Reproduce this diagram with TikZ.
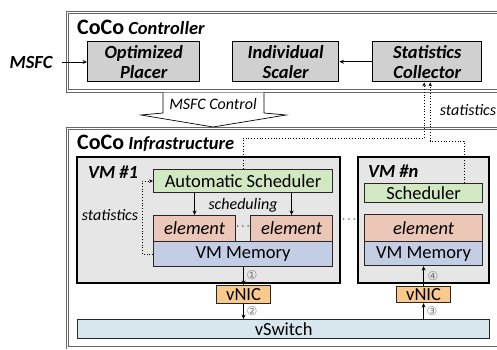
\documentclass[tikz,border=0pt]{standalone}
\usepackage{fontspec}
\setmainfont{Carlito}
\newfontfamily\dejavu{DejaVu Sans}
\usetikzlibrary{arrows.meta,calc}
\definecolor{boxgray}{RGB}{208,208,208}
\definecolor{vmgray}{RGB}{230,230,230}
\definecolor{schedgreen}{RGB}{210,232,194}
\definecolor{elsalmon}{RGB}{236,198,182}
\definecolor{memblue}{RGB}{195,206,228}
\definecolor{nicorange}{RGB}{250,201,142}
\definecolor{switchblue}{RGB}{216,231,238}
\definecolor{numgray}{RGB}{120,120,120}
\begin{document}
\begin{tikzpicture}[x=1pt,y=-1pt,
  ctrlbox/.style={draw=black, line width=1.4pt, fill=boxgray, align=center, inner sep=0pt, anchor=north west,
    font=\fontsize{18.5}{20}\selectfont\bfseries\itshape},
  vmbox/.style={draw=black, line width=1.8pt, fill=vmgray},
  inbox/.style={draw=black!85, line width=1.1pt, inner sep=0pt, anchor=north west,
    font=\fontsize{18.5}{20}\selectfont},
  frameline/.style={draw=black!60, line width=0.9pt},
  arr/.style={-{Stealth[length=4.5pt,width=4pt]}, line width=0.8pt},
  statline/.style={dotted, line width=0.8pt, -{Stealth[length=4pt,width=3.5pt]}},
  lbl/.style={font=\fontsize{16}{17}\selectfont\itshape, inner sep=0pt},
  ttl/.style={font=\fontsize{18.5}{20}\selectfont\bfseries\itshape, inner sep=0pt, anchor=base west},
  num/.style={font=\dejavu\fontsize{12}{12}\selectfont, text=numgray, inner sep=0pt},
  dots/.style={font=\fontsize{12}{12}\selectfont, inner sep=0pt}
]
\useasboundingbox (0,0) rectangle (497,349);
\clip (0,0) rectangle (497,349);

% frames (double lines)
\draw[frameline] (520,11) -- (66,11) -- (66,92) -- (520,92);
\draw[frameline] (520,13.5) -- (68.5,13.5) -- (68.5,89.5) -- (520,89.5);
\draw[frameline] (520,127) -- (66,127) -- (66,349);
\draw[frameline] (520,129.5) -- (68.5,129.5) -- (68.5,346.5) -- (520,346.5);

% controller
\node[ttl] (ctitle) at (77,34) {{\fontsize{22}{24}\selectfont\upshape CoCo} Controller};
\node[ctrlbox, minimum width=112, minimum height=40] (placer) at (87,41) {Optimized\\Placer};
\node[ctrlbox, minimum width=106, minimum height=40] (scaler) at (232,41) {Individual\\Scaler};
\node[ctrlbox, minimum width=109, minimum height=40] (collector) at (372,41) {Statistics\\Collector};
\node[font=\fontsize{18.5}{20}\selectfont\bfseries\itshape, inner sep=0pt] (msfc) at (31,62) {MSFC};
\draw[arr] (msfc.east) ++(9,0) coordinate (msfcs) -- (placer.west |- msfcs);
\draw[arr] (collector.west) -- (scaler.east);

% MSFC control block arrow
\draw[fill=white, line width=0.7pt] (163,92.5) -- (163,113) -- (141,115) -- (213,127) -- (286,115) -- (264,113) -- (264,92.5);
\node[lbl] (ctrl) at (213,104) {MSFC Control};

% infrastructure
\node[ttl] (ititle) at (77,149) {{\fontsize{22}{24}\selectfont\upshape CoCo} Infrastructure};
\draw[vmbox] (77,157) rectangle (340,283);
\draw[vmbox] (358,157) rectangle (489,283);
\node[ttl] (vm1) at (88,178) {VM \#1};
\node[ttl] (vmn) at (368,177) {VM \#n};

\node[inbox, fill=schedgreen, minimum width=179, minimum height=23] (autosched) at (153,169) {Automatic Scheduler};
\node[inbox, fill=elsalmon, minimum width=82, minimum height=26, font=\fontsize{18.5}{20}\selectfont\itshape] (el1) at (153,215) {element};
\node[inbox, fill=elsalmon, minimum width=82, minimum height=26, font=\fontsize{18.5}{20}\selectfont\itshape] (el2) at (250,215) {element};
\node[inbox, fill=memblue, minimum width=179, minimum height=25] (mem1) at (153,241) {VM Memory};
\node[dots] (d12) at (243,227) {$\cdots$};

\node[inbox, fill=schedgreen, minimum width=118, minimum height=19] (schedn) at (364,183) {Scheduler};
\node[inbox, fill=elsalmon, minimum width=118, minimum height=27, font=\fontsize{18.5}{20}\selectfont\itshape] (eln) at (364,214) {element};
\node[inbox, fill=memblue, minimum width=118, minimum height=24] (memn) at (364,241) {VM Memory};
\node[dots] (dvm) at (349,220) {$\cdots$};

\node[inbox, fill=nicorange, minimum width=54, minimum height=18] (vnic1) at (216,285) {vNIC};
\node[inbox, fill=nicorange, minimum width=54, minimum height=16] (vnicn) at (396,286) {vNIC};
\node[inbox, fill=switchblue, minimum width=412, minimum height=19, line width=1.3pt] (vswitch) at (77,319) {vSwitch};

% scheduling arrows
\draw[arr] (autosched.south -| el1.north) -- (el1.north);
\draw[arr] (autosched.south -| el2.north) -- (el2.north);
\node[lbl] (schedlbl) at (243,205) {scheduling};

% data path
\draw[arr] (mem1.south -| vnic1.north) -- (vnic1.north);
\draw[arr] (vnic1.south) -- (vswitch.north -| vnic1.south);
\draw[arr] (vswitch.north -| vnicn.south) -- (vnicn.south);
\draw[arr] (vnicn.north) -- (memn.south -| vnicn.north);
\node[num] (n1) at (252,275) {①};
\node[num] (n2) at (252,311) {②};
\node[num] (n3) at (432,311) {③};
\node[num] (n4) at (433,276) {④};

% statistics lines
\coordinate (s1) at (243,138);
\coordinate (s2) at (464,141);
\draw[statline] (autosched.north -| s1) -- (s1) -| ([xshift=-3pt]collector.south);
\draw[statline] (schedn.north -| s2) -- (s2) -| ([xshift=3pt]collector.south);
\draw[statline] (mem1.west) -- ++(-11,0) |- (autosched.west);
\node[lbl] (statl) at (110,215) {statistics};
\node[lbl] (statr) at (468,110) {statistics};
\end{tikzpicture}
\end{document}
